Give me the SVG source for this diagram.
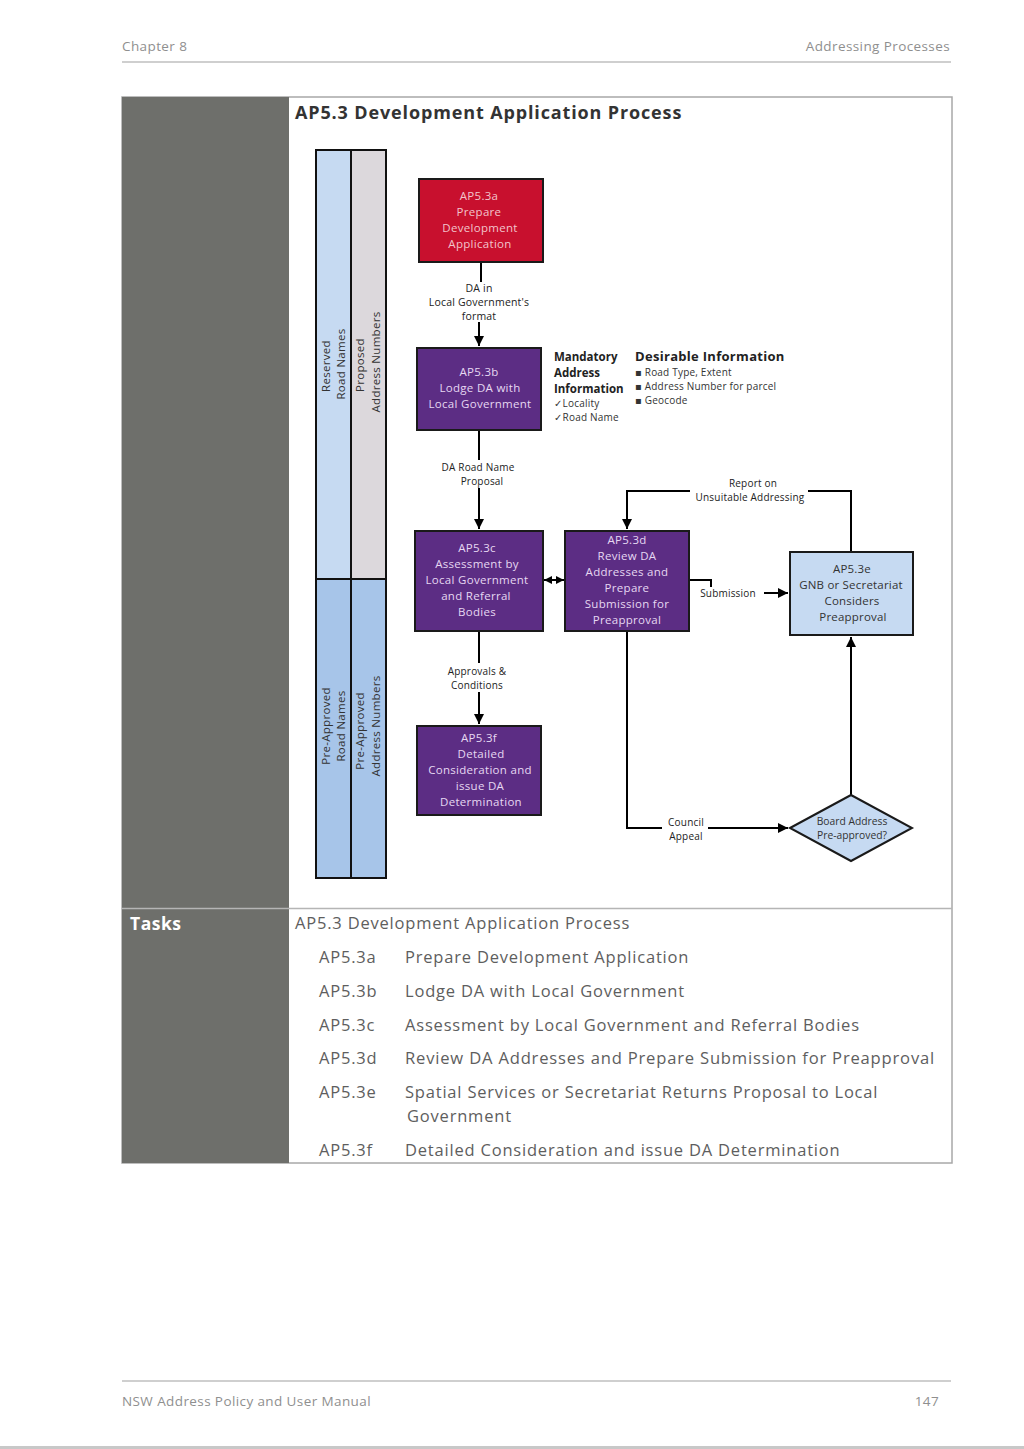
<svg xmlns="http://www.w3.org/2000/svg" width="1024" height="1449" viewBox="0 0 1024 1449">
<defs>
<marker id="ah" viewBox="0 0 10 10" refX="10" refY="5" markerWidth="10" markerHeight="10" markerUnits="userSpaceOnUse" orient="auto-start-reverse">
<path d="M0,0 L10,5 L0,10 z" fill="#000"/>
</marker>
<marker id="ahs" viewBox="0 0 10 10" refX="10" refY="5" markerWidth="8" markerHeight="10" markerUnits="userSpaceOnUse" orient="auto-start-reverse">
<path d="M0,0 L10,5 L0,10 z" fill="#000"/>
</marker>
<style>
text{font-family:"Open Sans","Noto Sans","DejaVu Sans",sans-serif}
.hdr{font-size:13.5px;fill:#8f8f8f;letter-spacing:0.4px}
.ttl{font-size:18px;font-weight:bold;fill:#333;letter-spacing:0.6px}
.lane{font-size:11.5px;fill:#333;letter-spacing:0.3px}
.nt{font-size:11.5px;fill:#f2c4cc;text-anchor:middle;letter-spacing:0.3px}
.pt{font-size:11.5px;fill:#e6d8f2;text-anchor:middle;letter-spacing:0.3px}
.bt{font-size:11.5px;fill:#333;text-anchor:middle;letter-spacing:0.2px}
.dt{font-size:10.3px;fill:#333;text-anchor:middle}
.lbl{font-size:10px;fill:#222;text-anchor:middle;letter-spacing:0.2px}
.lbl2{font-size:10.5px;fill:#222;text-anchor:middle;letter-spacing:0.2px}
.sm{font-size:10px;fill:#333;letter-spacing:0.2px}
.mand{font-size:11.5px;font-weight:bold;fill:#222}
.conn{fill:none;stroke:#000;stroke-width:2}
.box{stroke:#1a1a1a;stroke-width:2}
.task{font-size:16.5px;fill:#5e5e5e;letter-spacing:0.8px}
</style>
</defs>
<rect x="0" y="0" width="1024" height="1449" fill="#fff"/>
<!-- header -->
<text class="hdr" x="122" y="51">Chapter 8</text>
<text class="hdr" x="950" y="51" text-anchor="end">Addressing Processes</text>
<line x1="122" y1="62" x2="951" y2="62" stroke="#cfcfcf" stroke-width="2"/>
<!-- table -->
<rect x="122" y="97" width="830" height="1066" fill="#fff" stroke="#a8a8a8" stroke-width="1.5"/>
<rect x="122" y="97" width="167" height="1066" fill="#6e6f6b"/>
<line x1="122" y1="908.5" x2="952" y2="908.5" stroke="#b5b5b5" stroke-width="1.5"/>
<text class="ttl" x="295" y="119" textLength="387" lengthAdjust="spacing">AP5.3 Development Application Process</text>
<!-- swimlanes -->
<g id="lanes">
<rect x="316" y="150" width="35" height="429" fill="#c6daf2" stroke="#111" stroke-width="2"/>
<rect x="351" y="150" width="35" height="429" fill="#dcd8dc" stroke="#111" stroke-width="2"/>
<rect x="316" y="579" width="35" height="299" fill="#a7c5e9" stroke="#111" stroke-width="2"/>
<rect x="351" y="579" width="35" height="299" fill="#a7c5e9" stroke="#111" stroke-width="2"/>
<text class="lane" transform="translate(330,366) rotate(-90)" text-anchor="middle">Reserved</text>
<text class="lane" transform="translate(345,364) rotate(-90)" text-anchor="middle">Road Names</text>
<text class="lane" transform="translate(364,365) rotate(-90)" text-anchor="middle">Proposed</text>
<text class="lane" transform="translate(380,362) rotate(-90)" text-anchor="middle">Address Numbers</text>
<text class="lane" transform="translate(330,726) rotate(-90)" text-anchor="middle">Pre-Approved</text>
<text class="lane" transform="translate(345,726) rotate(-90)" text-anchor="middle">Road Names</text>
<text class="lane" transform="translate(364,731) rotate(-90)" text-anchor="middle">Pre-Approved</text>
<text class="lane" transform="translate(380,726) rotate(-90)" text-anchor="middle">Address Numbers</text>
</g>
<!-- connectors -->
<g id="connectors">
<path class="conn" d="M481,262 V282"/>
<path class="conn" d="M479,322 V346" marker-end="url(#ah)"/>
<path class="conn" d="M479,430 V460"/>
<path class="conn" d="M479,488 V529" marker-end="url(#ah)"/>
<path class="conn" d="M479,631 V663"/>
<path class="conn" d="M479,692 V724" marker-end="url(#ah)"/>
<path class="conn" d="M544,580 H564" marker-start="url(#ahs)" marker-end="url(#ahs)"/>
<path class="conn" d="M689,580 H711 V587"/>
<path class="conn" d="M764,593 H788" marker-end="url(#ah)"/>
<path class="conn" d="M851,552 V491 H808"/>
<path class="conn" d="M690,491 H627 V529" marker-end="url(#ah)"/>
<path class="conn" d="M627,631 V828 H662"/>
<path class="conn" d="M708,828 H788" marker-end="url(#ah)"/>
<path class="conn" d="M851,795 V637" marker-end="url(#ah)"/>
<text class="lbl2" x="479" y="292">DA in</text>
<text class="lbl2" x="479" y="306">Local Government's</text>
<text class="lbl2" x="479" y="320">format</text>
<text class="lbl" x="478" y="471">DA Road Name</text>
<text class="lbl" x="482" y="485">Proposal</text>
<text class="lbl" x="477" y="675">Approvals &amp;</text>
<text class="lbl" x="477" y="689">Conditions</text>
<text class="lbl" x="728" y="597">Submission</text>
<text class="lbl" x="753" y="487">Report on</text>
<text class="lbl" x="750" y="501">Unsuitable Addressing</text>
<text class="lbl" x="686" y="826">Council</text>
<text class="lbl" x="686" y="840">Appeal</text>
</g>
<!-- nodes -->
<g id="AP5.3a">
<rect class="box" x="419" y="179" width="124" height="83" fill="#c8102e"/>
<text class="nt" x="479" y="200">AP5.3a</text>
<text class="nt" x="479" y="216">Prepare</text>
<text class="nt" x="480" y="232">Development</text>
<text class="nt" x="480" y="248">Application</text>
</g>
<g id="AP5.3b">
<rect class="box" x="417" y="348" width="124" height="82" fill="#5c2d84"/>
<text class="pt" x="479" y="376">AP5.3b</text>
<text class="pt" x="480" y="392">Lodge DA with</text>
<text class="pt" x="480" y="408">Local Government</text>
</g>
<g id="info">
<text class="mand" x="554" y="361">Mandatory</text>
<text class="mand" x="554" y="377">Address</text>
<text class="mand" x="554" y="393">Information</text>
<text class="sm" x="554" y="407">✓Locality</text>
<text class="sm" x="554" y="421">✓Road Name</text>
<text x="635" y="361" style="font-size:13px;font-weight:bold;fill:#222;letter-spacing:0.3px">Desirable Information</text>
<text class="sm" x="635" y="376">▪ Road Type, Extent</text>
<text class="sm" x="635" y="390">▪ Address Number for parcel</text>
<text class="sm" x="635" y="404">▪ Geocode</text>
</g>
<g id="AP5.3c">
<rect class="box" x="415" y="531" width="128" height="100" fill="#5c2d84"/>
<text class="pt" x="477" y="552">AP5.3c</text>
<text class="pt" x="477" y="568">Assessment by</text>
<text class="pt" x="477" y="584">Local Government</text>
<text class="pt" x="476" y="600">and Referral</text>
<text class="pt" x="477" y="616">Bodies</text>
</g>
<g id="AP5.3d">
<rect class="box" x="565" y="531" width="124" height="100" fill="#5c2d84"/>
<text class="pt" x="627" y="544">AP5.3d</text>
<text class="pt" x="627" y="560">Review DA</text>
<text class="pt" x="627" y="576">Addresses and</text>
<text class="pt" x="627" y="592">Prepare</text>
<text class="pt" x="627" y="608">Submission for</text>
<text class="pt" x="627" y="624">Preapproval</text>
</g>
<g id="AP5.3e">
<rect class="box" x="790" y="552" width="123" height="83" fill="#c6daf2"/>
<text class="bt" x="852" y="573">AP5.3e</text>
<text class="bt" x="851" y="589">GNB or Secretariat</text>
<text class="bt" x="852" y="605">Considers</text>
<text class="bt" x="853" y="621">Preapproval</text>
</g>
<g id="decision">
<path d="M790,828 L851,795 L912,828 L851,861 Z" fill="#c6daf2" stroke="#1a1a1a" stroke-width="2"/>
<text class="dt" x="852" y="825">Board Address</text>
<text class="dt" x="852" y="839">Pre-approved?</text>
</g>
<g id="AP5.3f">
<rect class="box" x="417" y="726" width="124" height="89" fill="#5c2d84"/>
<text class="pt" x="479" y="742">AP5.3f</text>
<text class="pt" x="481" y="758">Detailed</text>
<text class="pt" x="480" y="774">Consideration and</text>
<text class="pt" x="480" y="790">issue DA</text>
<text class="pt" x="481" y="806">Determination</text>
</g>
<!-- tasks -->
<g id="tasks">
<text x="130" y="930" style="font-size:17.5px;font-weight:bold;fill:#fff;letter-spacing:0.5px">Tasks</text>
<text class="task" x="295" y="929">AP5.3  Development Application Process</text>
<text class="task" x="319" y="963">AP5.3a</text><text class="task" x="405" y="963">Prepare Development Application</text>
<text class="task" x="319" y="997">AP5.3b</text><text class="task" x="405" y="997">Lodge DA with Local Government</text>
<text class="task" x="319" y="1031">AP5.3c</text><text class="task" x="405" y="1031">Assessment by Local Government and Referral Bodies</text>
<text class="task" x="319" y="1064">AP5.3d</text><text class="task" x="405" y="1064" textLength="530" lengthAdjust="spacingAndGlyphs">Review DA Addresses and Prepare Submission for Preapproval</text>
<text class="task" x="319" y="1098">AP5.3e</text><text class="task" x="405" y="1098">Spatial Services or Secretariat Returns Proposal to Local</text>
<text class="task" x="407" y="1122">Government</text>
<text class="task" x="319" y="1156">AP5.3f</text><text class="task" x="405" y="1156">Detailed Consideration and issue DA Determination</text>
</g>
<!-- footer -->
<line x1="122" y1="1381" x2="951" y2="1381" stroke="#cfcfcf" stroke-width="2"/>
<text class="hdr" x="122" y="1406">NSW Address Policy and User Manual</text>
<text class="hdr" x="939" y="1406" text-anchor="end">147</text>
<rect x="0" y="1446" width="1024" height="3" fill="#c8c8c8"/>
</svg>
